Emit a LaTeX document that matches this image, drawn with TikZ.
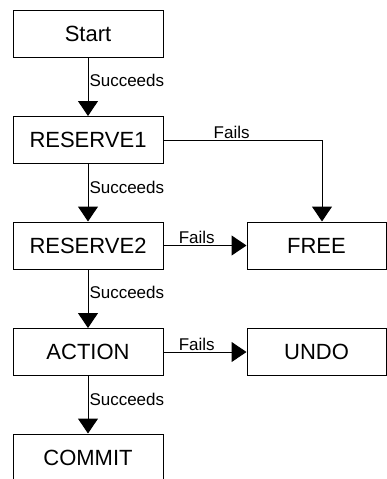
\documentclass[tikz,border=0pt]{standalone}
\usepackage{fontspec}
\setmainfont{Liberation Sans}
\usepackage{tikz}
\usetikzlibrary{arrows.meta, positioning, calc}

\tikzset{
  stepbox/.style={draw, line width=1pt, minimum width=150pt, minimum height=47pt,
    inner sep=0pt, font=\fontsize{22}{25}\selectfont},
  sidebox/.style={stepbox, minimum width=139pt},
  flow/.style={line width=1pt, -{Triangle[width=20pt,length=15pt]}},
  cond/.style={font=\fontsize{17}{19}\selectfont, inner sep=1pt}
}

\begin{document}
\begin{tikzpicture}[x=1pt,y=-1pt]
  \clip (0,0) rectangle (387,479);
  \useasboundingbox (0,0) rectangle (387,479);
  \node[stepbox] (start)    at (88,33.5)   {Start};
  \node[stepbox] (reserve1) at (88,140)    {RESERVE1};
  \node[stepbox] (reserve2) at (88,245.5)  {RESERVE2};
  \node[stepbox] (action)   at (88,352)    {ACTION};
  \node[stepbox] (commit)   at (88,457.5)  {COMMIT};
  \node[sidebox] (free)     at (316.5,245.5) {FREE};
  \node[sidebox] (undo)     at (316.5,352)   {UNDO};
  \coordinate (corner) at (322,140);
  % succeeds path
  \draw[flow] (start) -- node[cond, right, pos=0.4] {Succeeds} (reserve1);
  \draw[flow] (reserve1) -- node[cond, right, pos=0.4] {Succeeds} (reserve2);
  \draw[flow] (reserve2) -- node[cond, right, pos=0.4] {Succeeds} (action);
  \draw[flow] (action) -- node[cond, right, pos=0.4] {Succeeds} (commit);
  % fails paths
  \draw[flow] (reserve1.east) -- node[cond, above, pos=0.43] {Fails} (corner) -- (free.north -| corner);
  \draw[flow] (reserve2) -- node[cond, above, pos=0.4] {Fails} (free);
  \draw[flow] (action) -- node[cond, above, pos=0.4] {Fails} (undo);
\end{tikzpicture}
\end{document}
